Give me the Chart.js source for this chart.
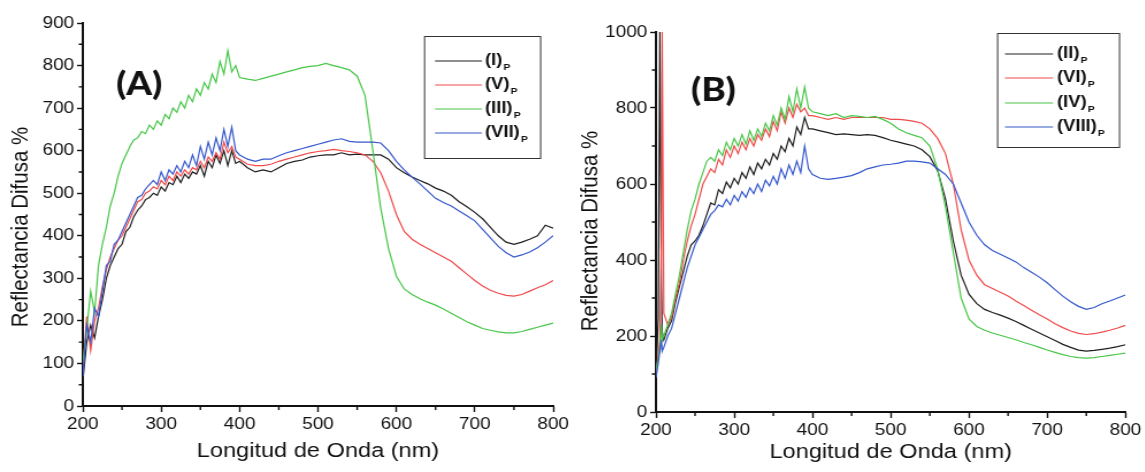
<!DOCTYPE html>
<html>
<head>
<meta charset="utf-8">
<script src="https://cdn.jsdelivr.net/npm/chart.js@4/dist/chart.umd.min.js"></script>
<style>
  html, body { margin: 0; padding: 0; background: #fff; }
  #wrap { position: relative; width: 1145px; height: 472px; overflow: hidden; }
  .panel { position: absolute; top: 0; height: 472px; transform-origin: 0 0; }
  #pA { left: 0; }
  #pB { left: 572px; }
  canvas { display: block; }
</style>
</head>
<body>
<div id="wrap">
  <div class="panel" id="pA"><canvas id="cA" width="498" height="472"></canvas></div>
  <div class="panel" id="pB"><canvas id="cB" width="498" height="472"></canvas></div>
</div>
<script>
// ---- Panel (A): wavelength grid (nm) and diffuse reflectance (%) ----
const wavelengthA = [
  200,205,210,215,220,225,230,235,240,245,250,255,260,265,270,275,280,285,290,295,
  300,305,310,315,320,325,330,335,340,345,350,355,360,365,370,375,380,385,390,395,400,
  410,420,430,440,450,460,470,480,490,500,510,520,530,540,550,560,570,580,590,600,
  610,620,630,640,650,660,670,680,690,700,710,720,730,740,750,760,770,780,790,800
];
const reflI = [
  60,150,190,160,210,250,300,330,350,370,380,410,420,445,460,470,485,490,500,495,
  515,505,525,520,540,525,545,535,550,545,565,540,575,560,590,570,600,565,600,570,575,
  560,550,555,550,560,570,575,578,585,588,590,590,595,590,592,590,590,590,580,560,
  548,538,530,522,512,505,495,480,468,455,440,420,400,385,380,385,392,400,425,418
];
const reflV = [
  80,210,130,200,230,280,320,350,370,390,400,420,440,460,480,485,500,505,515,510,
  530,520,540,530,550,540,555,545,560,555,575,560,585,575,595,580,620,595,610,585,580,
  568,565,565,568,575,580,585,590,595,598,600,603,600,598,595,590,575,548,505,450,
  410,392,380,370,360,350,340,325,310,295,282,272,265,260,258,262,270,278,285,295
];
const reflIII = [
  100,180,270,220,330,380,420,470,500,540,570,590,610,625,630,645,640,660,650,670,
  660,685,675,700,690,715,700,730,715,745,730,760,745,780,760,810,780,835,785,800,772,
  768,765,770,775,780,785,790,795,798,800,805,800,795,790,775,730,600,465,370,305,
  275,262,252,244,237,228,218,208,198,190,182,178,174,172,172,175,180,185,190,195
];
const reflVII = [
  70,190,150,230,210,270,330,340,380,390,410,430,450,470,490,495,510,520,530,520,
  550,530,555,545,565,550,575,560,590,565,610,580,620,590,630,600,650,610,655,600,590,
  580,575,580,580,588,595,600,605,610,615,620,625,628,622,620,620,620,618,600,575,
  555,538,522,505,488,478,470,458,447,435,415,395,375,360,350,355,362,372,385,400
];

// ---- Panel (B): wavelength grid (nm) and diffuse reflectance (%) ----
const wavelengthB = [
  200,203,205,207,208,
  210,215,220,225,230,235,240,245,250,255,260,265,270,275,280,285,290,295,
  300,305,310,315,320,325,330,335,340,345,350,355,360,365,370,375,380,385,390,395,400,
  410,420,430,440,450,460,470,480,490,500,510,520,530,540,550,560,570,580,590,600,
  610,620,630,640,650,660,670,680,690,700,710,720,730,740,750,760,770,780,790,800
];
const reflII = [
  90,250,1000,330,210,
  190,220,240,290,330,370,410,440,450,465,490,520,550,545,585,575,605,590,
  615,600,630,615,645,625,655,640,665,650,680,665,700,685,720,700,750,730,775,745,745,
  740,735,730,732,730,728,730,728,722,715,710,705,700,690,672,635,560,450,360,310,
  285,270,262,255,247,238,228,218,208,198,188,178,170,163,160,162,165,168,172,177
];
const reflVI = [
  100,150,190,450,1000,
  260,230,250,300,340,400,450,490,520,560,600,620,640,630,665,650,690,670,
  700,680,710,690,720,700,730,715,745,725,765,740,790,760,800,775,810,790,800,780,780,
  775,770,775,770,775,775,775,775,775,770,770,768,765,760,745,720,680,600,480,400,
  360,335,325,315,305,292,280,268,256,245,232,222,213,207,204,206,210,215,221,228
];
const reflIV = [
  110,140,170,230,190,
  200,230,260,310,360,420,480,530,560,600,630,660,670,660,690,675,710,690,
  720,700,730,705,740,715,745,725,760,740,780,755,800,770,830,790,850,800,855,800,790,
  785,780,785,775,780,778,775,778,770,760,745,735,728,722,700,640,540,420,300,245,
  225,215,208,202,196,190,183,177,170,163,157,151,146,143,142,143,146,149,152,155
];
const reflVIII = [
  90,130,160,190,160,
  170,200,220,260,300,340,380,410,440,460,480,500,520,530,545,540,560,545,
  570,555,580,565,590,575,600,580,610,595,620,600,640,615,650,625,660,630,700,640,625,
  615,612,615,618,622,630,640,645,650,652,655,660,660,658,655,640,625,600,550,500,
  465,440,425,415,405,395,380,368,355,340,322,305,290,278,270,275,285,292,300,308
];

const labelsA = ['(I)', '(V)', '(III)', '(VII)'];
const labelsB = ['(II)', '(VI)', '(IV)', '(VIII)'];
const lineColors = ['#1e1e1e', '#f04a4a', '#48c648', '#3558cc'];

const STRETCH = 1.15;           // panels are drawn narrow and widened horizontally
const FONT = "'Liberation Sans', Arial, sans-serif";
Chart.defaults.font.family = FONT;
Chart.defaults.color = '#111';

function toPoints(wl, vals) {
  return wl.map((x, i) => ({ x: x, y: vals[i] }));
}

// Minor ticks, panel tag, y-axis title and the boxed legend with subscripts
const panelExtras = {
  id: 'panelExtras',
  afterDraw(chart, _args, o) {
    const ctx = chart.ctx;
    const ca = chart.chartArea;
    const xs = chart.scales.x, ys = chart.scales.y;
    ctx.save();
    ctx.strokeStyle = '#111';
    ctx.lineWidth = 1.4;
    ctx.beginPath();
    for (let v = xs.min + o.minorX; v < xs.max; v += o.majorX) {
      const px = xs.getPixelForValue(v);
      ctx.moveTo(px, ca.bottom);
      ctx.lineTo(px, ca.bottom + 4);
    }
    for (let v = ys.min + o.minorY; v < ys.max; v += o.majorY) {
      const py = ys.getPixelForValue(v);
      ctx.moveTo(ca.left, py);
      ctx.lineTo(ca.left - 3.5, py);
    }
    ctx.stroke();

    // y-axis title
    ctx.save();
    ctx.translate(o.yTitleX, o.yTitleY);
    ctx.rotate(-Math.PI / 2);
    ctx.font = '20.5px ' + FONT;
    ctx.fillStyle = '#111';
    ctx.textAlign = 'center';
    ctx.textBaseline = 'middle';
    ctx.fillText(o.yTitle, 0, 0);
    ctx.restore();

    // panel tag
    ctx.font = "900 32px Lato, 'Liberation Sans', sans-serif";
    ctx.fillStyle = '#111';
    ctx.textAlign = 'center';
    ctx.textBaseline = 'middle';
    ctx.fillText(o.tag, o.tagX, o.tagY);

    // legend
    const L = o.legend;
    ctx.lineWidth = 1;
    ctx.strokeStyle = '#333';
    ctx.strokeRect(L.x + 0.5, L.y + 0.5, L.w, L.h);
    chart.data.datasets.forEach((ds, i) => {
      const y = L.rowY[i];
      ctx.strokeStyle = ds.borderColor;
      ctx.lineWidth = 1.2;
      ctx.beginPath();
      ctx.moveTo(L.lineX0, y);
      ctx.lineTo(L.lineX1, y);
      ctx.stroke();
      ctx.fillStyle = '#111';
      ctx.textAlign = 'left';
      ctx.textBaseline = 'middle';
      ctx.font = 'bold 16px ' + FONT;
      ctx.fillText(ds.label, L.textX, y);
      const w = ctx.measureText(ds.label).width;
      ctx.font = 'bold 9px ' + FONT;
      ctx.fillText(o.subscript, L.textX + w + 1, y + 7);
    });
    ctx.restore();
  }
};

function makePanel(canvasId, wl, seriesList, labels, cfg) {
  const datasets = seriesList.map((vals, i) => ({
    label: labels[i],
    data: toPoints(wl, vals),
    borderColor: lineColors[i],
    borderWidth: 1.2,
    pointRadius: 0,
    tension: 0,
    order: seriesList.length - i
  }));
  return new Chart(document.getElementById(canvasId), {
    type: 'line',
    data: { datasets: datasets },
    options: {
      responsive: false,
      animation: false,
      devicePixelRatio: 1,
      layout: { padding: { left: 0, top: cfg.top, right: cfg.right, bottom: 0 } },
      plugins: {
        legend: { display: false },
        tooltip: { enabled: false },
        panelExtras: cfg.extras
      },
      scales: {
        x: {
          type: 'linear',
          min: 200, max: 800,
          afterFit: s => { s.height = cfg.xHeight; },
          ticks: { stepSize: 100, font: { size: 16.5 }, padding: 3, maxRotation: 0,
                   callback: v => String(v) },
          grid: { drawOnChartArea: false, drawTicks: true, tickLength: 6, tickWidth: 1.4, tickColor: '#111' },
          border: { display: true, color: '#111', width: 2 },
          title: { display: true, text: 'Longitud de Onda (nm)', font: { size: 20.5 },
                   padding: { top: 0, bottom: cfg.xTitlePad } }
        },
        y: {
          min: 0, max: cfg.yMax,
          afterFit: s => { s.width = cfg.yWidth; },
          ticks: { stepSize: cfg.yStep, font: { size: 16.5 }, padding: 2.5,
                   callback: v => String(v) },
          grid: { drawOnChartArea: false, drawTicks: true, tickLength: 5, tickWidth: 1.4, tickColor: '#111' },
          border: { display: true, color: '#111', width: 2 },
          title: { display: false, text: 'Reflectancia Difusa %' }
        }
      }
    },
    plugins: [panelExtras]
  });
}

document.getElementById('pA').style.transform = 'scaleX(' + STRETCH + ')';
document.getElementById('pB').style.transform = 'scaleX(' + STRETCH + ')';

makePanel('cA', wavelengthA, [reflI, reflV, reflIII, reflVII], labelsA, {
  top: 23, right: 17, xHeight: 66, yWidth: 72, yMax: 900, yStep: 100, xTitlePad: 8,
  extras: {
    minorX: 50, majorX: 100, minorY: 50, majorY: 100,
    yTitle: 'Reflectancia Difusa %', yTitleX: 18.7, yTitleY: 227,
    tag: '(A)', tagX: 121, tagY: 85,
    subscript: 'P',
    legend: { x: 368.7, y: 36, w: 100.9, h: 122, rowY: [61, 85, 109, 133],
              lineX0: 378.3, lineX1: 419.1, textX: 421.7 }
  }
});

makePanel('cB', wavelengthB, [reflII, reflVI, reflIV, reflVIII], labelsB, {
  top: 32, right: 16, xHeight: 60, yWidth: 73, yMax: 1000, yStep: 200, xTitlePad: 7,
  extras: {
    minorX: 50, majorX: 100, minorY: 100, majorY: 200,
    yTitle: 'Reflectancia Difusa %', yTitleX: 16.5, yTitleY: 231,
    tag: '(B)', tagX: 123, tagY: 91,
    subscript: 'P',
    legend: { x: 369.6, y: 33, w: 106, h: 114, rowY: [54, 78, 103, 127],
              lineX0: 376.5, lineX1: 418.3, textX: 421.7 }
  }
});
</script>
</body>
</html>
